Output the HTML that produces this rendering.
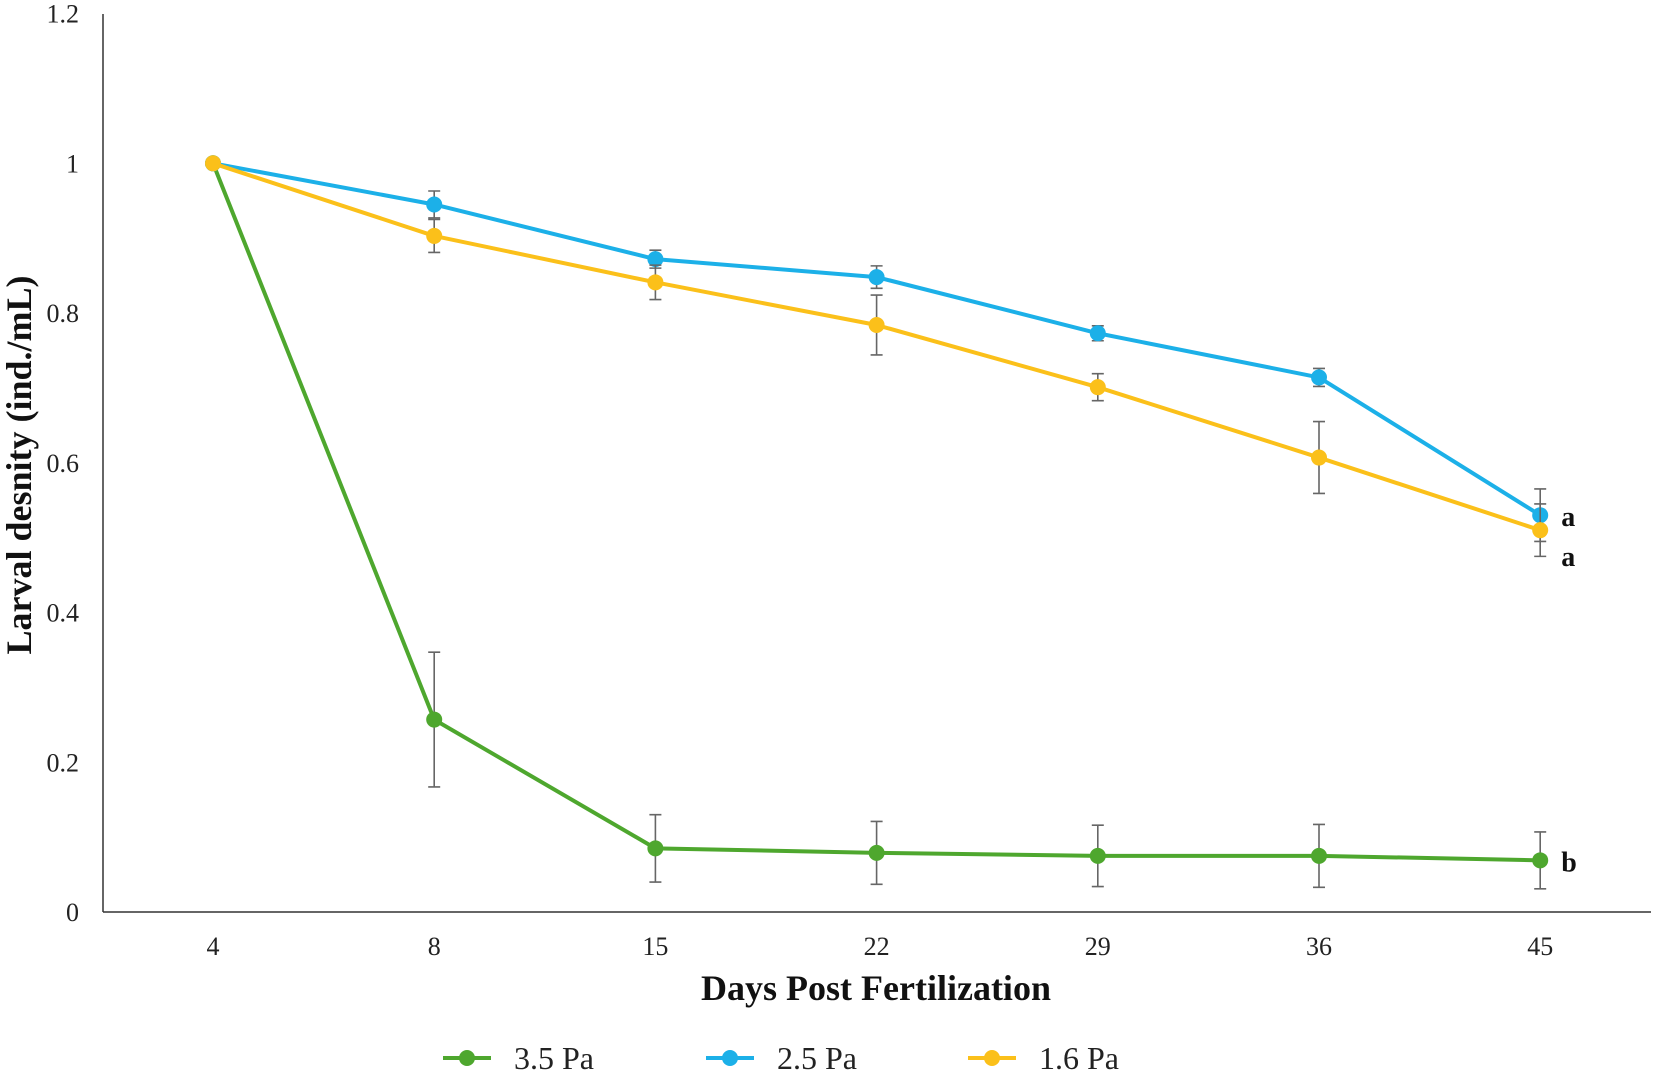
<!DOCTYPE html>
<html><head><meta charset="utf-8"><style>
html,body{margin:0;padding:0;background:#fff;}
svg{display:block;font-family:"Liberation Serif",serif;}
</style></head><body>
<svg id="chart" width="1654" height="1074" viewBox="0 0 1654 1074" xmlns="http://www.w3.org/2000/svg"></svg>
<script>
const categories = ["4","8","15","22","29","36","45"];
const yTicks = [0,0.2,0.4,0.6,0.8,1,1.2];
const yTickLabels = ["0","0.2","0.4","0.6","0.8","1","1.2"];
const green = [1,0.257,0.085,0.079,0.075,0.075,0.069];
const greenErr = [0,0.09,0.045,0.042,0.041,0.042,0.038];
const blue = [1,0.945,0.872,0.848,0.773,0.714,0.53];
const blueErr = [0,0.018,0.012,0.015,0.01,0.012,0.035];
const yellow = [1,0.903,0.841,0.784,0.701,0.607,0.51];
const yellowErr = [0,0.022,0.023,0.04,0.018,0.048,0.035];
const seriesNames = ["3.5 Pa","2.5 Pa","1.6 Pa"];
const letters = ["b","a","a"];

const NS="http://www.w3.org/2000/svg";
const svg=document.getElementById('chart');
const X0=213, XSTEP=221.2, Y0=912, YUNIT=748.7;
const xs=i=>X0+i*XSTEP;
const ys=v=>Y0-v*YUNIT;
function mk(tag,attrs,parent){const e=document.createElementNS(NS,tag);for(const k in attrs)e.setAttribute(k,attrs[k]);(parent||svg).appendChild(e);return e;}

let e;
e=mk('line',{x1:103,y1:14,x2:103,y2:Y0,stroke:'#333','stroke-width':1.5});


e=mk('line',{x1:103,y1:Y0,x2:1651,y2:Y0,stroke:'#333','stroke-width':1.5});



yTicks.forEach((v,i)=>{
  const t=mk('text',{x:79,y:ys(v)+9,'text-anchor':'end','font-size':26,fill:'#222'});
  t.textContent=yTickLabels[i];
  
  
});
categories.forEach((c,i)=>{
  const t=mk('text',{x:xs(i),y:955,'text-anchor':'middle','font-size':26,fill:'#222'});
  t.textContent=c;
  
  
});
e=mk('text',{x:876,y:1000,'text-anchor':'middle','font-size':36,'font-weight':'bold',fill:'#111'});
e.textContent='Days Post Fertilization';


e=mk('text',{x:0,y:0,'text-anchor':'middle','font-size':36,'font-weight':'bold',fill:'#111',transform:'translate(31,465) rotate(-90)'});
e.textContent='Larval desnity (ind./mL)';



const series=[[green,greenErr,'#4ea72e'],[blue,blueErr,'#1cb0e8'],[yellow,yellowErr,'#fbc01a']];
series.forEach(([vals,errs,col],si)=>{
  const g=mk('g',{});
  
  
  vals.forEach((v,i)=>{
    if(errs[i]>0){
      const x=xs(i),a=ys(v+errs[i]),b=ys(v-errs[i]);
      const eb=mk('path',{d:`M${x},${a}V${b}M${x-6},${a}H${x+6}M${x-6},${b}H${x+6}`,stroke:'#666','stroke-width':1.6,fill:'none'},g);
      
      
    }
  });
  const pl=mk('polyline',{points:vals.map((v,i)=>xs(i)+','+ys(v)).join(' '),fill:'none',stroke:col,'stroke-width':4,'stroke-linejoin':'round'},g);
  
  
  vals.forEach((v,i)=>{
    const c=mk('circle',{cx:xs(i),cy:ys(v),r:8,fill:col},g);
    
    
  });
  const last=vals.length-1;
  const ly=si===0?ys(vals[last])+11:(si===1?ys(vals[last])+11:ys(vals[last])+36);
  const lt=mk('text',{x:xs(last)+21,y:ly,'font-size':28,'font-weight':'bold',fill:'#111'});
  lt.textContent=letters[si];
  
  
  const lx=[443,706,968][si];
  const lg=mk('g',{});
  
  
  mk('line',{x1:lx,y1:1058,x2:lx+48,y2:1058,stroke:col,'stroke-width':4},lg);
  mk('circle',{cx:lx+24,cy:1058,r:8,fill:col},lg);
  const tt=mk('text',{x:lx+71,y:1069,'font-size':32,fill:'#222'},lg);
  tt.textContent=seriesNames[si];
});
</script>
</body></html>
